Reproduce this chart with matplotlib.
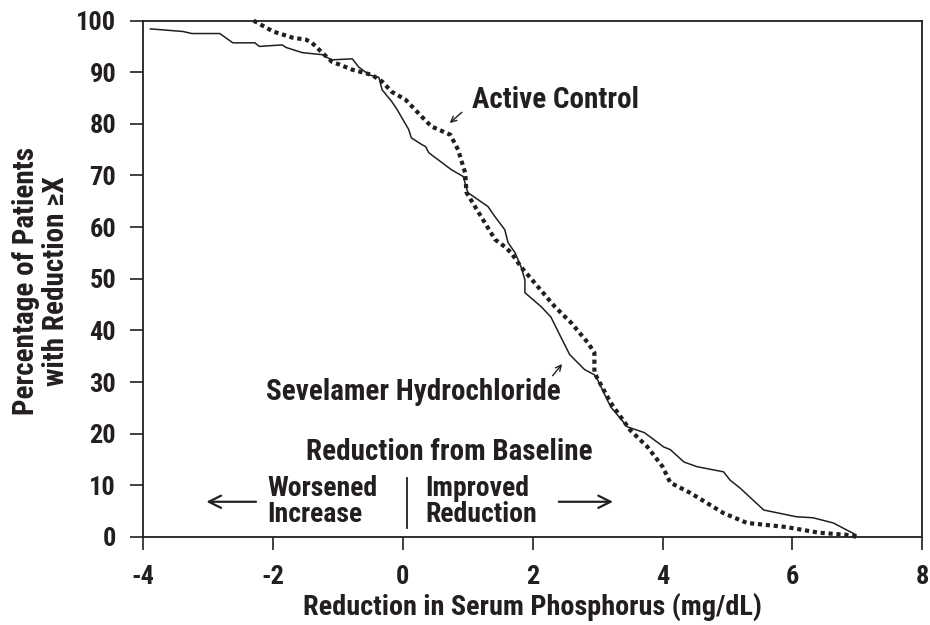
import matplotlib.pyplot as plt

plt.rcParams['font.family'] = ['Roboto Condensed', 'DejaVu Sans']
plt.rcParams['font.weight'] = 'bold'
plt.rcParams['axes.unicode_minus'] = False

INK = '#231f20'

# Sevelamer hydrochloride (solid)
sev_x = [-3.89, -3.39, -3.25, -2.82, -2.62, -2.28, -2.21, -1.86, -1.80, -1.55,
         -1.24, -1.10, -0.78, -0.68, -0.52, -0.37, -0.32, -0.17, -0.09, 0.09,
         0.13, 0.29, 0.35, 0.40, 0.75, 0.93, 1.00, 1.16, 1.31, 1.42, 1.57,
         1.62, 1.73, 1.82, 1.88, 1.88, 2.13, 2.28, 2.43, 2.57, 2.80, 2.95,
         3.00, 3.20, 3.46, 3.72, 4.02, 4.12, 4.33, 4.53, 4.94, 5.04, 5.19,
         5.56, 6.06, 6.32, 6.63, 6.98]
sev_y = [98.4, 97.9, 97.5, 97.5, 95.7, 95.7, 95.0, 95.3, 94.8, 93.8,
         93.4, 92.4, 92.6, 91.0, 89.5, 89.0, 86.6, 84.3, 82.8, 78.9,
         77.3, 76.0, 75.6, 74.4, 71.1, 69.8, 66.7, 65.3, 64.0, 62.0, 59.5,
         57.0, 55.0, 52.3, 49.8, 47.3, 44.6, 42.6, 38.8, 35.3, 32.4, 31.4,
         30.4, 25.2, 21.3, 20.2, 17.4, 16.9, 14.5, 13.6, 12.6, 11.0, 9.5,
         5.2, 3.9, 3.7, 2.7, 0.4]

# Active control (dotted)
act_x = [-2.30, -2.00, -1.70, -1.49, -1.40, -1.26, -1.09, -0.98, -0.78, -0.48,
         -0.32, -0.17, 0.04, 0.29, 0.44, 0.73, 0.85, 0.96, 0.98, 1.11,
         1.42, 1.57, 1.67, 1.82, 2.03, 2.34, 2.59, 2.85, 2.95, 2.95,
         3.20, 3.50, 3.77, 4.00, 4.12, 4.43, 4.94, 5.30, 5.91, 6.41,
         6.83, 7.00]
act_y = [100.0, 97.9, 96.7, 96.3, 95.7, 94.0, 92.0, 91.5, 90.5, 89.5,
         88.2, 86.2, 84.7, 81.4, 79.5, 77.9, 75.0, 70.5, 66.7, 64.0,
         57.6, 56.2, 55.0, 52.3, 49.2, 44.6, 41.5, 37.6, 35.7, 31.8,
         26.0, 20.7, 17.4, 13.6, 10.5, 8.5, 4.6, 2.7, 1.9, 0.8,
         0.4, 0.0]

x_ticks = [-4, -2, 0, 2, 4, 6, 8]
y_ticks = list(range(0, 101, 10))

fig = plt.figure(figsize=(9.3, 6.25), dpi=100)
ax = fig.add_axes([0.154, 0.141, 0.8376, 0.826])

ax.plot(sev_x, sev_y, '-', color=INK, linewidth=1.1, clip_on=False)
ax.plot(act_x, act_y, color=INK, linewidth=3.0, linestyle=(0, (1, 0.9)),
        clip_on=False)

ax.set_xlim(-4, 8)
ax.set_ylim(0, 100)
ax.set_xticks(x_ticks)
ax.set_yticks(y_ticks)
ax.tick_params(direction='out', length=9.5, width=1.2, colors=INK,
               labelsize=19, top=False, right=False)
ax.tick_params(axis='x', pad=11)
ax.tick_params(axis='y', pad=10)
for lab in ax.get_xticklabels() + ax.get_yticklabels():
    lab.set_fontweight('bold')
for s in ax.spines.values():
    s.set_linewidth(1.3)
    s.set_color(INK)

ax.set_xlabel('Reduction in Serum Phosphorus (mg/dL)', fontsize=20.3,
              fontweight='bold', color=INK, va='center')
ax.xaxis.set_label_coords(0.5, -0.136)
ax.set_ylabel('Percentage of Patients\nwith Reduction \u2265X', fontsize=21,
              fontweight='bold', color=INK, linespacing=1.1, va='center')
ax.yaxis.set_label_coords(-0.131, 0.496)

txt = dict(fontsize=21, fontweight='bold', color=INK)
ax.text(2.35, 84.7, 'Active Control', ha='center', va='center', **txt)
ax.annotate('', xy=(0.69, 79.8), xytext=(0.94, 82.6),
            arrowprops=dict(arrowstyle='->', color=INK, lw=1.0))
ax.text(0.16, 28.1, 'Sevelamer Hydrochloride', ha='center', va='center', **txt)
ax.annotate('', xy=(2.48, 33.9), xytext=(2.28, 30.8),
            arrowprops=dict(arrowstyle='->', color=INK, lw=1.0))

ax.text(0.72, 16.5, 'Reduction from Baseline', ha='center', va='center', **txt)
small = dict(txt, fontsize=20)
ax.text(-2.09, 6.9, 'Worsened\nIncrease', ha='left', va='center',
        linespacing=0.96, **small)
ax.text(0.35, 6.9, 'Improved\nReduction', ha='left', va='center',
        linespacing=0.96, **small)
ax.plot([0.06, 0.06], [1.7, 11.4], color=INK, linewidth=1.3)
ax.annotate('', xy=(-3.07, 6.8), xytext=(-2.22, 6.8),
            arrowprops=dict(arrowstyle='->', color=INK, lw=1.6,
                            mutation_scale=22))
ax.annotate('', xy=(3.28, 6.8), xytext=(2.36, 6.8),
            arrowprops=dict(arrowstyle='->', color=INK, lw=1.6,
                            mutation_scale=22))

fig.savefig('out.png', dpi=100, facecolor='white')
